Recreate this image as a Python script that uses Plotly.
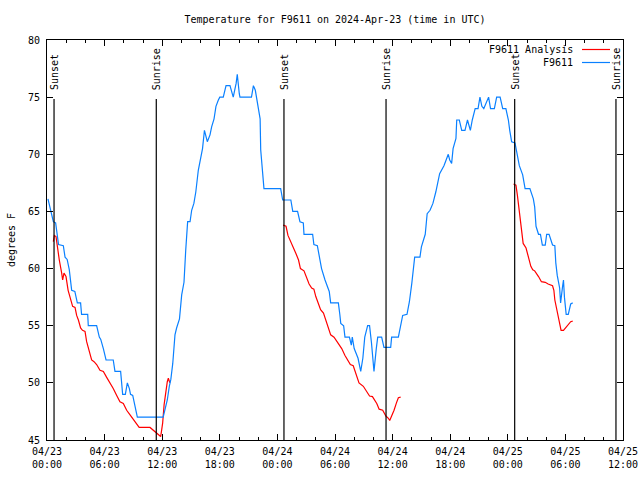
import pandas as pd
import plotly.graph_objects as go

START = "2024-04-23 00:00"

# F9611 observed temperature (hours since 2024-04-23 00:00 UTC, degrees F)
blue_hours = [0.1, 0.45, 0.66, 0.9, 1.07, 1.2, 1.7, 1.88, 2.1, 2.32, 2.57, 2.9, 3.16, 3.5, 3.6, 4.24, 4.3, 5.17,
              5.45, 5.6, 5.87, 6.15, 6.9, 7.08, 7.67, 7.78, 7.88, 8.16, 8.37, 8.58, 8.7, 8.93, 9.17, 9.41, 12.1,
              12.3, 12.53, 12.74, 12.9, 13.1, 13.33, 13.5, 13.8, 14.03, 14.27, 14.45, 14.6, 14.65, 14.9, 15.07,
              15.3, 15.5, 15.76, 15.9, 16.2, 16.4, 16.55, 16.7, 16.98, 17.15, 17.4, 17.6, 17.85, 18.0, 18.36,
              18.65, 19.06, 19.4, 19.7, 19.82, 20.03, 20.1, 21.3, 21.5, 21.7, 21.9, 22.2, 22.26, 22.4, 22.5, 22.6,
              24.34, 24.55, 25.4, 25.6, 26.1, 26.35, 26.7, 26.77, 27.67, 27.8, 28.16, 28.4, 28.6, 28.96, 29.4,
              29.55, 30.35, 30.5, 30.6, 30.9, 31.04, 31.5, 31.7, 31.8, 32.0, 32.4, 32.68, 32.9, 33.1, 33.4, 33.6,
              33.8, 34.06, 34.3, 34.45, 34.86, 35.1, 35.8, 35.9, 36.6, 36.8, 37.05, 37.5, 37.75, 38.0, 38.3,
              38.85, 39.0, 39.4, 39.6, 39.9, 40.2, 40.5, 40.9, 41.35, 41.8, 41.95, 42.15, 42.3, 42.6, 42.68,
              42.95, 43.2, 43.54, 43.8, 44.1, 44.3, 44.6, 44.9, 45.1, 45.3, 45.5, 46.0, 46.2, 46.6, 46.84, 47.2,
              47.47, 47.8, 48.06, 48.2, 48.4, 48.75, 49.0, 49.2, 49.55, 49.8, 50.3, 50.66, 50.8, 50.94, 51.2,
              51.4, 51.6, 51.9, 52.05, 52.3, 52.66, 52.9, 53.0, 53.15, 53.4, 53.5, 53.7, 53.8, 53.9, 54.08, 54.3,
              54.55, 54.76]
blue_temp = [66.1, 65.0, 64.1, 64.0, 63.0, 62.1, 62.0, 61.0, 60.8, 59.9, 58.1, 58.0, 57.0, 57.0, 56.0, 56.0, 55.0, 55.0,
             54.0, 53.8, 53.0, 52.0, 52.0, 51.0, 51.0, 49.5, 49.0, 49.0, 50.0, 49.5, 49.0, 48.9, 48.0, 47.0, 47.0,
             47.6, 48.5, 49.7, 50.3, 51.7, 54.2, 54.8, 55.6, 57.7, 58.8, 61.6, 63.3, 64.1, 64.1, 65.1,
             65.7, 66.7, 68.6, 69.2, 70.5, 72.1, 71.5, 71.1, 71.7, 72.4, 73.1, 74.2, 74.75, 75.0, 75.0,
             76.0, 76.0, 75.0, 76.2, 77.0, 75.3, 75.0, 75.0, 76.0, 75.6, 74.6, 73.1, 70.4, 69.1, 67.5, 67.0,
             67.0, 66.0, 66.0, 65.0, 65.0, 64.1, 64.0, 63.0, 63.0, 62.1, 62.0, 61.0, 60.0, 59.0, 58.0,
             57.0, 57.0, 56.0, 55.2, 55.0, 54.0, 54.0, 53.3, 54.0, 53.0, 52.15, 51.0, 52.15, 54.0, 55.0, 55.0,
             53.5, 51.0, 53.0, 54.0, 54.0, 53.1, 53.1, 54.0, 54.0, 54.9, 55.9, 56.0, 57.1, 58.7, 61.0,
             61.0, 61.9, 63.0, 64.8, 65.1, 65.7, 66.7, 68.3, 69.0, 70.0, 69.5, 69.2, 70.5, 71.4, 73.0,
             73.0, 72.1, 72.1, 73.0, 72.1, 73.0, 74.0, 74.0, 75.0, 74.2, 74.0, 75.0, 74.0, 74.0, 75.0, 75.0,
             74.0, 74.0, 73.0, 72.1, 71.1, 71.0, 69.8, 69.0, 68.2, 67.0, 67.0, 66.1, 65.4, 63.7, 63.0,
             63.0, 62.06, 62.06, 63.0, 63.0, 62.06, 62.0, 60.5, 59.4, 58.3, 57.0, 58.4, 59.0, 57.5, 56.0, 56.0,
             56.9, 57.0]

# F9611 Analysis (three night-time segments, None = gap)
red_hours = [0.66, 0.76, 0.94, 1.07, 1.28, 1.53, 1.63, 1.77, 1.98, 2.2, 2.47, 2.67, 2.92, 3.09, 3.27, 3.5, 3.7, 3.96,
             4.13, 4.4, 4.65, 4.9, 5.17, 5.52, 5.87, 6.2, 6.56, 6.9, 7.26, 7.6, 7.95, 8.3, 8.65, 9.0, 9.34, 9.6,
             10.73, 11.25, 11.6, 11.84, 11.95, 12.05, 12.2, 12.4, 12.53, 12.64, 12.8, None,
             24.6, 24.9, 25.1, 25.24, 25.5, 25.66, 25.94, 26.2, 26.4, 26.77, 27.05, 27.3, 27.57, 27.8, 28.0,
             28.26, 28.5, 28.8, 29.06, 29.3, 29.55, 29.9, 30.2, 30.7, 31.04, 31.4, 31.6, 31.9, 32.26, 32.5,
             32.95, 33.3, 33.6, 33.9, 34.35, 34.6, 34.97, 35.3, 35.56, 35.7, 35.9, 36.15, 36.4, 36.6, 36.84, None,
             48.6, 48.85, 49.0, 49.2, 49.35, 49.5, 49.6, 49.9, 50.14, 50.4, 50.6, 50.8, 51.2, 51.5, 51.9, 52.2,
             52.66, 52.8, 52.9, 53.1, 53.3, 53.45, 53.55, 53.8, 54.07, 54.3, 54.55, 54.76]
red_temp = [62.35, 62.9, 62.8, 61.8, 60.75, 59.6, 59.0, 59.6, 59.3, 58.1, 57.25, 56.7, 56.6, 55.9, 55.5, 54.8, 54.6, 54.5,
            53.6, 52.7, 52.0, 51.85, 51.6, 51.1, 51.0, 50.5, 50.0, 49.5, 48.9, 48.35, 48.2, 47.6, 47.2, 46.8, 46.5, 46.1,
            46.1, 45.7, 45.5, 45.3, 45.9, 46.5, 48.1, 49.5, 50.1, 50.4, 50.0, None,
            63.8, 63.7, 62.9, 62.65, 62.2, 61.85, 61.3, 60.75, 60.0, 59.8, 59.15, 58.65, 58.3, 58.2, 57.55,
            57.0, 56.4, 56.1, 55.5, 54.9, 54.2, 54.0, 53.6, 53.0, 52.4, 51.9, 51.6, 51.5, 50.7, 50.0,
            49.7, 49.2, 48.85, 48.8, 48.2, 47.7, 47.6, 47.1, 46.9, 46.7, 47.05, 47.6, 48.25, 48.7, 48.75, None,
            67.4, 67.3, 66.4, 65.1, 63.8, 62.8, 62.2, 61.8, 61.0, 60.2, 59.9, 59.8, 59.3, 58.85, 58.8, 58.65,
            58.5, 58.1, 57.25, 56.4, 55.8, 55.1, 54.6, 54.6, 54.85, 55.15, 55.35, 55.4]

event_labels = ["Sunset", "Sunrise", "Sunset", "Sunrise", "Sunset", "Sunrise"]
event_times = ["2024-04-23 00:44", "2024-04-23 11:23", "2024-04-24 00:41",
               "2024-04-24 11:19", "2024-04-25 00:43", "2024-04-25 11:16"]

start = pd.Timestamp(START)


def to_time(hours):
    return [None if h is None else start + pd.Timedelta(hours=h) for h in hours]


FONT = "DejaVu Sans Mono"
fig = go.Figure()
fig.add_trace(go.Scatter(x=to_time(red_hours), y=red_temp, mode="lines", name="F9611 Analysis",
                         line=dict(color="#ff0000", width=1.2), connectgaps=False))
fig.add_trace(go.Scatter(x=to_time(blue_hours), y=blue_temp, mode="lines", name="F9611",
                         line=dict(color="#0a80ff", width=1.2)))

for lab, t in zip(event_labels, event_times):
    fig.add_shape(type="line", xref="x", yref="paper", x0=t, x1=t, y0=0, y1=0.8525,
                  line=dict(color="black", width=1.2))
    fig.add_annotation(x=t, xref="x", yref="paper", y=0.87, yanchor="bottom", xanchor="center",
                       text=lab, textangle=-90, showarrow=False,
                       font=dict(family=FONT, size=10, color="black"))

# gnuplot-style legend: text then line sample
legend_rows = [("F9611 Analysis", "#ff0000", 49.5), ("F9611", "#0a80ff", 62.5)]
for name, col, ypx in legend_rows:
    yp = (440 - ypx) / 400
    fig.add_annotation(xref="paper", yref="paper", x=(575 - 47) / 576, y=yp, xanchor="right",
                       yanchor="middle", text=name, showarrow=False,
                       font=dict(family=FONT, size=10, color="black"))
    fig.add_shape(type="line", xref="paper", yref="paper", x0=(582 - 47) / 576, x1=(610 - 47) / 576,
                  y0=yp, y1=yp, line=dict(color=col, width=1.2))

axis_common = dict(showline=True, linecolor="black", linewidth=1, mirror="ticks", ticks="inside",
                   tickcolor="black", ticklen=6, tickwidth=1, showgrid=False, zeroline=False,
                   automargin=False,
                   tickfont=dict(family=FONT, size=10, color="black"))

fig.update_layout(
    width=640, height=480,
    margin=dict(l=47, r=17, t=40, b=40),
    paper_bgcolor="white", plot_bgcolor="white",
    showlegend=False,
    title=dict(text="Temperature for F9611 on 2024-Apr-23 (time in UTC)", x=0.5, xanchor="center",
               xref="paper", y=1 - 19 / 480, yanchor="middle",
               font=dict(family=FONT, size=10, color="black")),
    xaxis=dict(type="date", range=["2024-04-23 00:00", "2024-04-25 12:00"], tickmode="linear",
               tick0="2024-04-23 00:00", dtick=6 * 3600 * 1000, tickformat="%m/%d<br>%H:%M",
               ticklabelstandoff=2,
               minor=dict(dtick=2 * 3600 * 1000, ticks="inside", ticklen=3, tickcolor="black"),
               **axis_common),
    yaxis=dict(range=[45, 80], dtick=5, tickmode="linear", tick0=45, ticklabelstandoff=4,
               title=dict(text="degrees F", font=dict(family=FONT, size=10, color="black"), standoff=10),
               **axis_common),
)

fig.write_html("out.html")
